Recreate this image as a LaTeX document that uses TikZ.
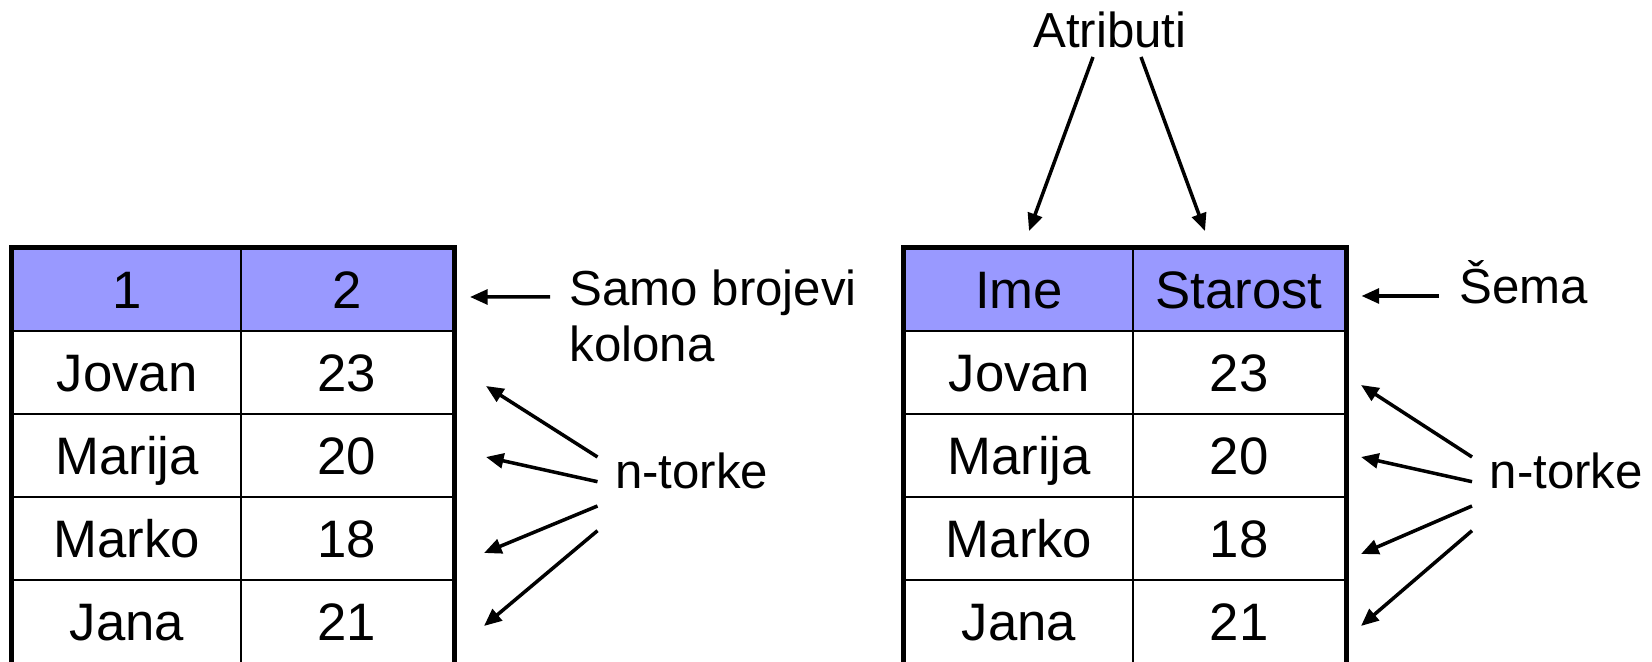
\documentclass[tikz,border=0pt]{standalone}
\usepackage{fontspec}
\setmainfont{Liberation Sans}
\usetikzlibrary{arrows.meta}
\definecolor{headblue}{RGB}{153,153,255}

\begin{document}
\begin{tikzpicture}[
        cell/.style={draw, line width=0.75pt, inner sep=0pt, minimum height=0.83cm,
            text height=10.8pt, text depth=0pt, font=\fontsize{15pt}{18pt}\selectfont},
        colA/.style={cell, minimum width=2.28cm},
        colB/.style={cell, minimum width=2.12cm},
        headcell/.style={fill=headblue, minimum height=0.82cm},
        lbl/.style={inner sep=0pt, font=\fontsize{14pt}{16.1pt}\selectfont},
        arr/.style={-{Triangle[length=5pt,width=4.2pt]}, line width=1pt},
        rim/.style={line width=1.5pt}
    ]
        \useasboundingbox (0,0) rectangle (16.52,6.62);
        % left table, only column numbers
        \node[colA, headcell] (l0-a) at (1.27,3.72) {1};
        \node[colB, headcell] (l0-b) at (3.47,3.72) {2};
        \foreach \nm/\ag/\y [count=\i] in {Jovan/23/2.895, Marija/20/2.065, Marko/18/1.235, Jana/21/0.405} {
            \node[colA] (l\i-a) at (1.27,\y) {\nm};
            \node[colB] (l\i-b) at (3.47,\y) {\ag};
        }
        \draw[rim] (l4-a.south west) |- (l0-b.north east) -- (l4-b.south east);

        % right table, with schema
        \node[colA, headcell] (r0-a) at (10.19,3.72) {Ime};
        \node[colB, headcell] (r0-b) at (12.39,3.72) {Starost};
        \foreach \nm/\ag/\y [count=\i] in {Jovan/23/2.895, Marija/20/2.065, Marko/18/1.235, Jana/21/0.405} {
            \node[colA] (r\i-a) at (10.19,\y) {\nm};
            \node[colB] (r\i-b) at (12.39,\y) {\ag};
        }
        \draw[rim] (r4-a.south west) |- (r0-b.north east) -- (r4-b.south east);

        % arrow ends
        \coordinate (lh) at (4.70,3.65);
        \coordinate (rh) at (13.615,3.66);
        \coordinate (ra) at (10.29,4.31);
        \coordinate (rb) at (12.05,4.31);
        \coordinate (lt1) at (4.86,2.76);
        \coordinate (lt2) at (4.86,2.05);
        \coordinate (lt3) at (4.84,1.09);
        \coordinate (lt4) at (4.84,0.36);
        \coordinate (rt1) at (13.61,2.77);
        \coordinate (rt2) at (13.61,2.05);
        \coordinate (rt3) at (13.61,1.08);
        \coordinate (rt4) at (13.61,0.36);

        % labels
        \node[lbl, anchor=north west, align=left] (brk) at (5.69,3.93) {Samo brojevi\\kolona};
        \node[lbl, anchor=base west] (sema) at (14.59,3.58) {Šema};
        \node[lbl, anchor=base] (atr) at (11.10,6.14) {Atributi};
        \node[lbl, anchor=base west] (ntl) at (6.145,1.73) {n-torke};
        \node[lbl, anchor=base west] (ntr) at (14.89,1.73) {n-torke};

        \draw[arr] ([shift={(-0.19,-0.28)}]brk.north west) -- (lh);
        \draw[arr] ([shift={(-0.20,0.08)}]sema.base west) -- (rh);
        \draw[arr] ([shift={(-0.17,-0.09)}]atr.base) -- (ra);
        \draw[arr] ([shift={(0.31,-0.09)}]atr.base) -- (rb);
        \foreach \dy/\k in {0.32/1, 0.073/2, -0.17/3, -0.417/4} {
            \draw[arr] ([shift={(-0.17,\dy)}]ntl.base west) -- (lt\k);
            \draw[arr] ([shift={(-0.17,\dy)}]ntr.base west) -- (rt\k);
        }
    \end{tikzpicture}
\end{document}
